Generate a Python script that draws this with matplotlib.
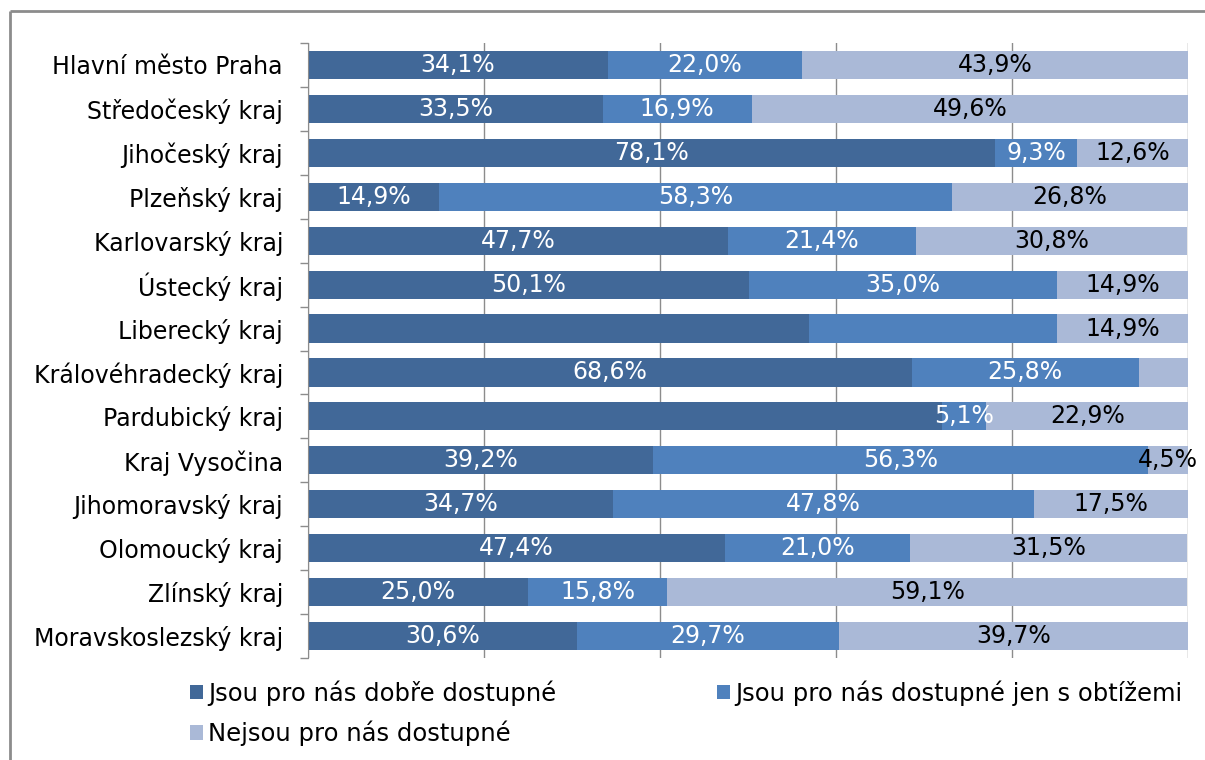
import matplotlib
matplotlib.use("Agg")
import matplotlib.pyplot as plt
from matplotlib.lines import Line2D
import numpy as np

plt.rcParams['font.family'] = ['DejaVu Sans']

regions = ["Hlavní město Praha", "Středočeský kraj", "Jihočeský kraj", "Plzeňský kraj",
           "Karlovarský kraj", "Ústecký kraj", "Liberecký kraj", "Královéhradecký kraj",
           "Pardubický kraj", "Kraj Vysočina", "Jihomoravský kraj", "Olomoucký kraj",
           "Zlínský kraj", "Moravskoslezský kraj"]

good = [34.1, 33.5, 78.1, 14.9, 47.7, 50.1, 56.9, 68.6, 72.0, 39.2, 34.7, 47.4, 25.0, 30.6]
difficult = [22.0, 16.9, 9.3, 58.3, 21.4, 35.0, 28.2, 25.8, 5.1, 56.3, 47.8, 21.0, 15.8, 29.7]
unavailable = [43.9, 49.6, 12.6, 26.8, 30.8, 14.9, 14.9, 5.6, 22.9, 4.5, 17.5, 31.5, 59.1, 39.7]

# data labels as printed in the chart ('' = no label shown)
good_labels = ["34,1%", "33,5%", "78,1%", "14,9%", "47,7%", "50,1%", "", "68,6%", "",
               "39,2%", "34,7%", "47,4%", "25,0%", "30,6%"]
difficult_labels = ["22,0%", "16,9%", "9,3%", "58,3%", "21,4%", "35,0%", "", "25,8%", "5,1%",
                    "56,3%", "47,8%", "21,0%", "15,8%", "29,7%"]
unavailable_labels = ["43,9%", "49,6%", "12,6%", "26,8%", "30,8%", "14,9%", "14,9%", "", "22,9%",
                      "4,5%", "17,5%", "31,5%", "59,1%", "39,7%"]

series_names = ["Jsou pro nás dobře dostupné", "Jsou pro nás dostupné jen s obtížemi",
                "Nejsou pro nás dostupné"]
colors = ["#416898", "#4F81BD", "#AAB9D7"]
label_colors = ["white", "white", "black"]

W, H = 1205, 760
fig = plt.figure(figsize=(W / 100, H / 100), dpi=100)
ax = fig.add_axes([308 / W, 1 - 658 / H, (1188 - 308) / W, (658 - 43) / H])

y = np.arange(len(regions))
left = np.zeros(len(regions))
handles = []
fs = 17
for vals, labs, col, lc, name in zip([good, difficult, unavailable],
                                     [good_labels, difficult_labels, unavailable_labels],
                                     colors, label_colors, series_names):
    vals = np.array(vals)
    b = ax.barh(y, vals, left=left, height=0.64, color=col, edgecolor='none', label=name, zorder=2)
    handles.append(b)
    for yi, l, v, t in zip(y, left, vals, labs):
        if t:
            ax.text(l + v / 2, yi, t, ha='center', va='center', color=lc, fontsize=fs, zorder=3)
    left = left + vals

ax.set_xlim(0, 100)
ax.set_ylim(len(regions) - 0.5, -0.5)
ax.set_xticks([0, 20, 40, 60, 80, 100])
ax.xaxis.grid(True, color='#8C8C8C', linewidth=1, zorder=0)
ax.set_axisbelow(True)
ax.tick_params(axis='x', length=0, labelbottom=False)
ax.set_yticks(np.arange(len(regions) + 1) - 0.5, minor=True)
ax.set_yticks(y)
ax.set_yticklabels(regions, fontsize=fs)
ax.tick_params(axis='y', which='major', length=0, pad=18)
ax.tick_params(axis='y', which='minor', length=6, color='#8C8C8C', width=1)
for s in ['top', 'right', 'bottom']:
    ax.spines[s].set_visible(False)
ax.spines['left'].set_color('#8C8C8C')

# legend filled row-wise: (good, difficult) / (unavailable)
order = [0, 2, 1]
fig.legend(handles=[handles[i] for i in order], labels=[series_names[i] for i in order],
           ncol=2, loc='upper left', bbox_to_anchor=(190 / W, 1 - 680 / H), frameon=False,
           fontsize=17.5, handlelength=0.55, handleheight=0.55, handletextpad=0.2,
           columnspacing=6.6, labelspacing=0.62, borderpad=0, borderaxespad=0)

# outer chart border (left & top visible)
fig.add_artist(Line2D([10 / W, 10 / W], [1 - 11 / H, 0], transform=fig.transFigure,
                      color='#8C8C8C', linewidth=2, solid_capstyle='butt'))
fig.add_artist(Line2D([10 / W, 1], [1 - 11 / H, 1 - 11 / H], transform=fig.transFigure,
                      color='#8C8C8C', linewidth=2, solid_capstyle='butt'))

fig.savefig("out.png", dpi=100)
